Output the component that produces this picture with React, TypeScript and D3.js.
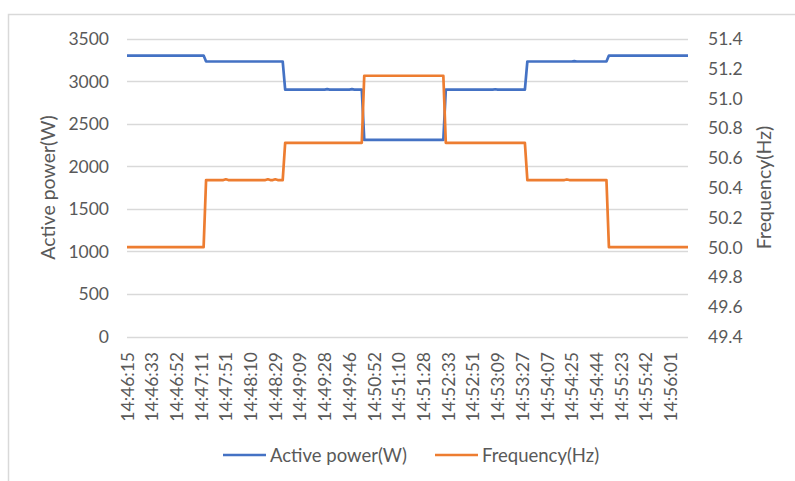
import React, { useEffect, useRef } from "react";
import * as d3 from "d3";

// category labels shown on the x axis (one every 10 samples)
const tickLabels = [
  "14:46:15", "14:46:33", "14:46:52", "14:47:11", "14:47:51", "14:48:10",
  "14:48:29", "14:49:09", "14:49:28", "14:49:46", "14:50:52", "14:51:10",
  "14:51:28", "14:52:33", "14:52:51", "14:53:09", "14:53:27", "14:54:07",
  "14:54:25", "14:54:44", "14:55:23", "14:55:42", "14:56:01",
];
const labelEvery = 10;
const sampleCount = 228;

// sample index where each step begins
const stepStarts = [0, 32, 64, 96, 129, 162, 195];
const powerLevels = [3300, 3230, 2900, 2310, 2900, 3230, 3300];
const freqLevels = [50.0, 50.45, 50.7, 51.15, 50.7, 50.45, 50.0];

// small blips seen on the traces: [sample, offset]
const powerBlips = [[81, 5], [91, 5], [149, 4], [181, 4]];
const freqBlips = [[40, 0.005], [57, 0.005], [60, 0.005], [178, 0.004]];

const powerTicks = [0, 500, 1000, 1500, 2000, 2500, 3000, 3500];
const freqTicks = [49.4, 49.6, 49.8, 50.0, 50.2, 50.4, 50.6, 50.8, 51.0, 51.2, 51.4];

const buildSeries = (levels, blips) => {
  const out = [];
  for (let i = 0; i < sampleCount; i++) {
    let s = 0;
    while (s + 1 < stepStarts.length && stepStarts[s + 1] <= i) s++;
    out.push(levels[s]);
  }
  blips.forEach(([i, d]) => { out[i] = out[i] + d; });
  return out;
};

const power = buildSeries(powerLevels, powerBlips);
const freq = buildSeries(freqLevels, freqBlips);

const BLUE = "#4472C4";
const ORANGE = "#ED7D31";
const TEXT = "#595959";
const GRID = "#D9D9D9";
const FONT = "Lato, 'Open Sans', sans-serif";

const App = () => {
  const svgRef = useRef(null);

  useEffect(() => {
    const svg = d3.select(svgRef.current);
    svg.selectAll("*").remove();

    const width = 795, height = 481;
    const left = 127, right = 688, top = 38.5, bottom = 336.5;

    const x = d3.scaleLinear().domain([0, sampleCount - 1]).range([left, right]);
    const yP = d3.scaleLinear().domain([0, 3500]).range([bottom, top]);
    const yF = d3.scaleLinear().domain([49.4, 51.4]).range([bottom, top]);

    svg.append("rect").attr("width", width).attr("height", height).attr("fill", "#fff");
    // chart frame (only top/left edges fall inside the picture)
    svg.append("rect")
      .attr("x", 8.5).attr("y", 14.5)
      .attr("width", width + 20).attr("height", height + 20)
      .attr("fill", "none").attr("stroke", GRID).attr("stroke-width", 1.5);

    // gridlines
    svg.append("g").selectAll("line").data(powerTicks).join("line")
      .attr("x1", left).attr("x2", right)
      .attr("y1", d => Math.round(yP(d)) + 0.5).attr("y2", d => Math.round(yP(d)) + 0.5)
      .attr("stroke", GRID).attr("stroke-width", 1.5);

    // left axis labels
    svg.append("g").selectAll("text").data(powerTicks).join("text")
      .attr("x", 109).attr("y", d => yP(d))
      .attr("text-anchor", "end").attr("dominant-baseline", "central")
      .attr("fill", TEXT).attr("font-family", FONT).attr("font-size", 17.5)
      .text(d => d);

    // right axis labels
    svg.append("g").selectAll("text").data(freqTicks).join("text")
      .attr("x", 708).attr("y", d => yF(d))
      .attr("text-anchor", "start").attr("dominant-baseline", "central")
      .attr("fill", TEXT).attr("font-family", FONT).attr("font-size", 17.5)
      .text(d => d.toFixed(1));

    // x axis labels
    svg.append("g").selectAll("text").data(tickLabels).join("text")
      .attr("transform", (d, i) => `translate(${x(i * labelEvery)},352) rotate(-90)`)
      .attr("text-anchor", "end").attr("dominant-baseline", "central")
      .attr("fill", TEXT).attr("font-family", FONT).attr("font-size", 17.5)
      .text(d => d);

    // axis titles
    svg.append("text")
      .attr("transform", `translate(47,${(top + bottom) / 2}) rotate(-90)`)
      .attr("text-anchor", "middle").attr("dominant-baseline", "central")
      .attr("fill", TEXT).attr("font-family", FONT).attr("font-size", 19.5)
      .text("Active power(W)");
    svg.append("text")
      .attr("transform", `translate(763,${(top + bottom) / 2}) rotate(-90)`)
      .attr("text-anchor", "middle").attr("dominant-baseline", "central")
      .attr("fill", TEXT).attr("font-family", FONT).attr("font-size", 19.5)
      .text("Frequency(Hz)");

    // series
    const linePower = d3.line().x((d, i) => x(i)).y(d => yP(d));
    const lineFreq = d3.line().x((d, i) => x(i)).y(d => yF(d));
    svg.append("path").datum(power)
      .attr("d", linePower).attr("fill", "none")
      .attr("stroke", BLUE).attr("stroke-width", 2.7).attr("stroke-linejoin", "round");
    svg.append("path").datum(freq)
      .attr("d", lineFreq).attr("fill", "none")
      .attr("stroke", ORANGE).attr("stroke-width", 2.7).attr("stroke-linejoin", "round");

    // legend
    const legend = [
      { name: "Active power(W)", color: BLUE, x: 223 },
      { name: "Frequency(Hz)", color: ORANGE, x: 435 },
    ];
    const lg = svg.append("g").selectAll("g").data(legend).join("g")
      .attr("transform", d => `translate(${d.x},455)`);
    lg.append("line").attr("x1", 0).attr("x2", 43)
      .attr("stroke", d => d.color).attr("stroke-width", 2.7);
    lg.append("text").attr("x", 47).attr("dominant-baseline", "central")
      .attr("fill", TEXT).attr("font-family", FONT).attr("font-size", 18.5)
      .text(d => d.name);
  }, []);

  return (
    <svg ref={svgRef} width={795} height={481}
      style={{ position: "absolute", left: 0, top: 0 }} />
  );
};

export default App;
